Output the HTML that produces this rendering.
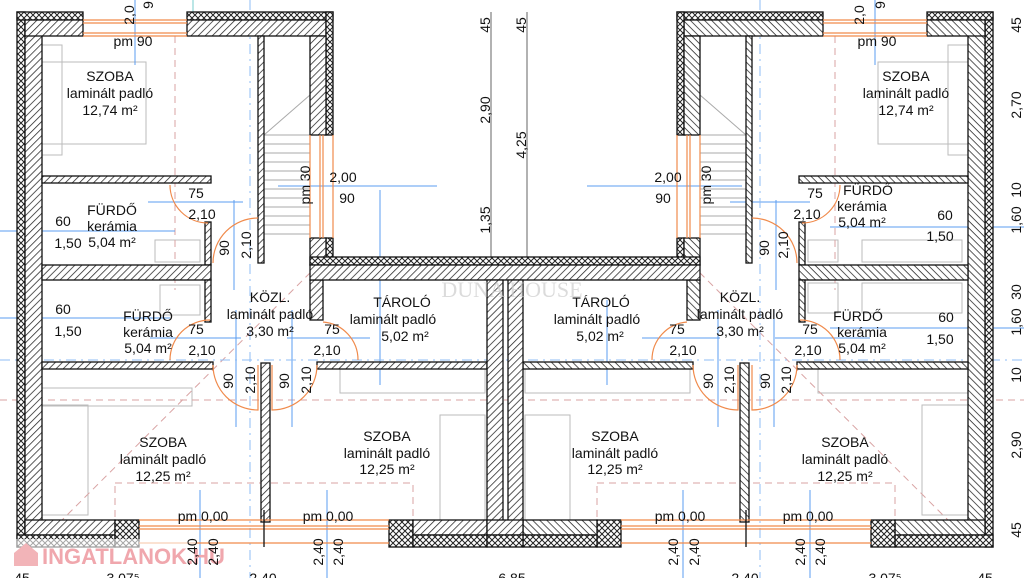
<!DOCTYPE html>
<html><head><meta charset="utf-8"><style>
html,body{margin:0;padding:0;background:#fff;}
svg{display:block;}
text{font-family:"Liberation Sans",sans-serif;font-size:14px;fill:#111;}
</style></head><body>
<svg width="1024" height="578" viewBox="0 0 1024 578" xmlns="http://www.w3.org/2000/svg">
<defs>
<pattern id="h" width="5" height="5" patternUnits="userSpaceOnUse" patternTransform="rotate(45)">
<rect width="5" height="5" fill="#fff"/><line x1="0" y1="0" x2="0" y2="5" stroke="#222" stroke-width="1.5"/></pattern>
<pattern id="x" width="6" height="6" patternUnits="userSpaceOnUse">
<rect width="6" height="6" fill="#fff"/><path d="M0,0 L6,6 M6,0 L0,6" stroke="#222" stroke-width="1"/></pattern>
</defs>
<rect width="1024" height="578" fill="#fff"/>

<g fill="none" stroke="#bbb" stroke-width="1">
<rect x="42" y="62" width="104" height="82"/><rect x="42" y="45" width="20" height="110"/>
<rect x="42" y="405" width="46" height="110"/><rect x="42" y="388" width="150" height="18"/>
<rect x="155" y="240" width="45" height="22"/><rect x="160" y="285" width="40" height="30"/>
<rect x="340" y="368" width="145" height="25"/><rect x="440" y="415" width="45" height="105"/>
<rect x="878" y="62" width="90" height="82"/><rect x="948" y="45" width="20" height="110"/>
<rect x="922" y="405" width="46" height="110"/><rect x="818" y="368" width="150" height="25"/>
<rect x="525" y="368" width="165" height="25"/><rect x="525" y="415" width="45" height="105"/>
<rect x="862" y="240" width="100" height="22"/><rect x="862" y="283" width="100" height="30"/>
<rect x="808" y="240" width="30" height="22"/><rect x="808" y="283" width="30" height="30"/>
</g>
<g stroke="#aaa" stroke-width="1">
<line x1="264" y1="135" x2="310" y2="135"/><line x1="264" y1="144" x2="310" y2="144"/><line x1="264" y1="153" x2="310" y2="153"/><line x1="264" y1="162" x2="310" y2="162"/><line x1="264" y1="171" x2="310" y2="171"/><line x1="264" y1="180" x2="310" y2="180"/><line x1="264" y1="189" x2="310" y2="189"/><line x1="264" y1="198" x2="310" y2="198"/><line x1="264" y1="207" x2="310" y2="207"/><line x1="264" y1="216" x2="310" y2="216"/><line x1="264" y1="225" x2="310" y2="225"/><line x1="264" y1="234" x2="310" y2="234"/>
<line x1="264" y1="135" x2="310" y2="95"/>
<line x1="700" y1="135" x2="746" y2="135"/><line x1="700" y1="144" x2="746" y2="144"/><line x1="700" y1="153" x2="746" y2="153"/><line x1="700" y1="162" x2="746" y2="162"/><line x1="700" y1="171" x2="746" y2="171"/><line x1="700" y1="180" x2="746" y2="180"/><line x1="700" y1="189" x2="746" y2="189"/><line x1="700" y1="198" x2="746" y2="198"/><line x1="700" y1="207" x2="746" y2="207"/><line x1="700" y1="216" x2="746" y2="216"/><line x1="700" y1="225" x2="746" y2="225"/><line x1="700" y1="234" x2="746" y2="234"/>
<line x1="746" y1="135" x2="700" y2="95"/>
</g>

<g fill="none" stroke="#d9a3a3" stroke-width="1" stroke-dasharray="7,5">
<line x1="175" y1="36" x2="175" y2="290"/><line x1="835" y1="36" x2="835" y2="290"/>
<line x1="0" y1="400" x2="1024" y2="400"/>
<rect x="115" y="483" width="298" height="37"/><rect x="597" y="483" width="298" height="37"/>
<line x1="42" y1="540" x2="330" y2="253"/><line x1="968" y1="540" x2="680" y2="253"/>
</g>

<g stroke="#5b9cf0" stroke-width="1" fill="none">
<line x1="0" y1="231" x2="175" y2="231"/><line x1="148" y1="202" x2="243" y2="202"/>
<line x1="278" y1="186" x2="437" y2="186"/><line x1="587" y1="186" x2="742" y2="186"/>
<line x1="0" y1="318" x2="170" y2="318"/><line x1="150" y1="338" x2="241" y2="338"/><line x1="287" y1="338" x2="370" y2="338"/>
<line x1="642" y1="338" x2="720" y2="338"/><line x1="775" y1="338" x2="870" y2="338"/>
<line x1="830" y1="227" x2="1024" y2="227"/><line x1="730" y1="202" x2="810" y2="202"/>
<line x1="830" y1="328" x2="1024" y2="328"/>
<line x1="135" y1="0" x2="135" y2="65"/><line x1="875" y1="0" x2="875" y2="65"/>
<line x1="234" y1="200" x2="234" y2="290"/><line x1="380" y1="190" x2="380" y2="385"/>
<line x1="776" y1="200" x2="776" y2="290"/><line x1="607" y1="300" x2="607" y2="385"/>
<line x1="236" y1="310" x2="236" y2="427"/><line x1="292" y1="310" x2="292" y2="427"/>
<line x1="718" y1="310" x2="718" y2="427"/><line x1="774" y1="310" x2="774" y2="427"/>
<line x1="200" y1="490" x2="200" y2="578"/><line x1="327" y1="490" x2="327" y2="578"/>
<line x1="683" y1="490" x2="683" y2="578"/><line x1="810" y1="490" x2="810" y2="578"/>
</g>
<g stroke="#8fbcf5" stroke-width="1" stroke-dasharray="10,5,2,5">
<line x1="250" y1="0" x2="250" y2="578"/><line x1="760" y1="0" x2="760" y2="578"/>
<line x1="0" y1="360" x2="1024" y2="360"/>
</g>
<line x1="193" y1="0" x2="193" y2="20" stroke="#7cc" stroke-width="1"/>

<g stroke="#666" stroke-width="1">
<line x1="491" y1="12" x2="491" y2="258"/><line x1="527" y1="12" x2="527" y2="258"/>
</g>

<g id="L" stroke="#111" stroke-width="1.3">
<rect x="17" y="12" width="8" height="535" fill="url(#x)"/>
<rect x="25" y="20" width="17" height="515" fill="url(#h)"/>
<rect x="17" y="12" width="66" height="8" fill="url(#x)"/>
<rect x="25" y="20" width="58" height="16" fill="url(#h)"/>
<rect x="187" y="12" width="146" height="8" fill="url(#x)"/>
<rect x="187" y="20" width="139" height="16" fill="url(#h)"/>
<rect x="326" y="12" width="7" height="123" fill="url(#x)"/>
<rect x="310" y="36" width="16" height="99" fill="url(#h)"/>
<rect x="326" y="238" width="7" height="20" fill="url(#x)"/>
<rect x="310" y="238" width="16" height="27" fill="url(#h)"/>
<rect x="25" y="520" width="90" height="15" fill="url(#h)"/>
<rect x="17" y="535" width="98" height="12" fill="url(#x)"/>
<rect x="115" y="520" width="24" height="27" fill="url(#x)"/>
<rect x="389" y="520" width="24" height="27" fill="url(#x)"/>
<rect x="413" y="520" width="74" height="15" fill="url(#h)"/>
<rect x="413" y="535" width="74" height="12" fill="url(#x)"/>
<rect x="258" y="36" width="6" height="227" fill="url(#h)"/>
<rect x="42" y="176" width="169" height="7" fill="url(#h)"/>
<rect x="205" y="222" width="6" height="43" fill="url(#h)"/>
<rect x="42" y="265" width="169" height="15" fill="url(#h)"/>
<rect x="205" y="280" width="6" height="42" fill="url(#h)"/>
<rect x="42" y="362" width="171" height="7" fill="url(#h)"/>
<rect x="261" y="363" width="9" height="159" fill="url(#h)"/>
<rect x="317" y="362" width="170" height="7" fill="url(#h)"/>
<rect x="310" y="280" width="13" height="40" fill="url(#h)"/>
<g stroke="#f08a4b" stroke-width="1.2" fill="none">
<line x1="83" y1="20" x2="187" y2="20"/><line x1="83" y1="23" x2="187" y2="23"/><line x1="83" y1="33" x2="187" y2="33"/><line x1="83" y1="36" x2="187" y2="36"/>
<line x1="310" y1="135" x2="310" y2="238"/><line x1="320" y1="135" x2="320" y2="238"/><line x1="323" y1="135" x2="323" y2="238"/><line x1="333" y1="135" x2="333" y2="238"/>
<line x1="139" y1="520" x2="389" y2="520"/><line x1="139" y1="526" x2="389" y2="526"/><line x1="139" y1="529" x2="389" y2="529"/><line x1="139" y1="543" x2="389" y2="543"/>
<path d="M170,185 A38,38 0 0 0 208,223"/>
<path d="M213,263 A45,45 0 0 1 258,218"/>
<path d="M170,360 A40,40 0 0 1 210,320"/>
<path d="M213,365 A45,45 0 0 0 258,410 L258,365"/>
<path d="M317,365 A45,45 0 0 1 272,410 L272,365"/>
<path d="M323,322 A38,38 0 0 1 358,360"/>
</g>
<line x1="264" y1="510" x2="264" y2="547" stroke="#111"/>
</g>
<use href="#L" transform="translate(1010,0) scale(-1,1)"/>
<g stroke="#111" stroke-width="1.3">
<rect x="310" y="257" width="390" height="8" fill="url(#x)"/>
<rect x="310" y="265" width="390" height="15" fill="url(#h)"/>
<rect x="487" y="280" width="16" height="242" fill="url(#h)"/>
<rect x="508" y="280" width="15" height="242" fill="url(#h)"/>
<rect x="487" y="520" width="36" height="15" fill="url(#h)"/>
<rect x="487" y="535" width="36" height="12" fill="url(#x)"/>
</g>

<text x="512" y="297" text-anchor="middle" style="font-family:'Liberation Serif',serif;font-size:22px;fill:#ccc;opacity:.7">DUNA HOUSE</text>
<rect x="10" y="539" width="186" height="30" fill="#fff" opacity=".6"/>
<path d="M14,553 L26,543 L38,553 L38,566 L14,566 Z" fill="#f2b4b8"/>
<text x="42" y="564" style="font-size:22px;font-weight:bold;fill:#f0a7ad">INGATLANOK.HU</text>

<g text-anchor="middle">
<text x="133" y="46">pm 90</text><text x="877" y="46">pm 90</text>
<text x="110" y="81">SZOBA</text><text x="110" y="98">laminált padló</text><text x="110" y="115">12,74 m²</text>
<text x="906" y="81">SZOBA</text><text x="906" y="98">laminált padló</text><text x="906" y="115">12,74 m²</text>
<text x="112" y="215">FÜRDŐ</text><text x="112" y="231">kerámia</text><text x="112" y="247">5,04 m²</text>
<text x="63" y="226">60</text><text x="68" y="248">1,50</text>
<text x="196" y="198">75</text><text x="202" y="219">2,10</text>
<text x="343" y="182">2,00</text><text x="347" y="203">90</text>
<text x="668" y="182">2,00</text><text x="663" y="203">90</text>
<text x="63" y="314">60</text><text x="68" y="336">1,50</text>
<text x="148" y="321">FÜRDŐ</text><text x="148" y="337">kerámia</text><text x="148" y="353">5,04 m²</text>
<text x="196" y="334">75</text><text x="202" y="355">2,10</text>
<text x="270" y="302">KÖZL.</text><text x="270" y="319">laminált padló</text><text x="270" y="336">3,30 m²</text>
<text x="332" y="334">75</text><text x="327" y="355">2,10</text>
<text x="402" y="307">TÁROLÓ</text><text x="393" y="324">laminált padló</text><text x="405" y="341">5,02 m²</text>
<text x="601" y="307">TÁROLÓ</text><text x="597" y="324">laminált padló</text><text x="600" y="341">5,02 m²</text>
<text x="740" y="302">KÖZL.</text><text x="740" y="319">laminált padló</text><text x="740" y="336">3,30 m²</text>
<text x="677" y="334">75</text><text x="683" y="355">2,10</text>
<text x="810" y="334">75</text><text x="808" y="355">2,10</text>
<text x="858" y="321">FÜRDŐ</text><text x="862" y="337">kerámia</text><text x="862" y="353">5,04 m²</text>
<text x="946" y="322">60</text><text x="940" y="344">1,50</text>
<text x="868" y="195">FÜRDŐ</text><text x="862" y="211">kerámia</text><text x="862" y="227">5,04 m²</text>
<text x="945" y="220">60</text><text x="940" y="241">1,50</text>
<text x="815" y="198">75</text><text x="807" y="219">2,10</text>
<text x="163" y="447">SZOBA</text><text x="163" y="464">laminált padló</text><text x="163" y="481">12,25 m²</text>
<text x="387" y="441">SZOBA</text><text x="387" y="458">laminált padló</text><text x="387" y="474">12,25 m²</text>
<text x="615" y="441">SZOBA</text><text x="615" y="458">laminált padló</text><text x="615" y="474">12,25 m²</text>
<text x="845" y="447">SZOBA</text><text x="845" y="464">laminált padló</text><text x="845" y="481">12,25 m²</text>
<text x="203" y="521">pm 0,00</text><text x="328" y="521">pm 0,00</text>
<text x="680" y="521">pm 0,00</text><text x="808" y="521">pm 0,00</text>
<text x="22" y="583">45</text><text x="123" y="583">3,07⁵</text><text x="263" y="583">2,40</text>
<text x="512" y="583">6,85</text><text x="745" y="583">2,40</text><text x="885" y="583">3,07⁵</text><text x="985" y="583">45</text>
</g>
<g text-anchor="middle">
<text transform="translate(134,15) rotate(-90)">2,0</text>
<text transform="translate(153,5) rotate(-90)">9</text>
<text transform="translate(864,15) rotate(-90)">2,0</text>
<text transform="translate(885,5) rotate(-90)">9</text>
<text transform="translate(229,248) rotate(-90)">90</text><text transform="translate(251,245) rotate(-90)">2,10</text>
<text transform="translate(769,248) rotate(-90)">90</text><text transform="translate(788,245) rotate(-90)">2,10</text>
<text transform="translate(310,185) rotate(-90)">pm 30</text><text transform="translate(711,185) rotate(-90)">pm 30</text>
<text transform="translate(233,381) rotate(-90)">90</text><text transform="translate(255,380) rotate(-90)">2,10</text>
<text transform="translate(289,381) rotate(-90)">90</text><text transform="translate(311,380) rotate(-90)">2,10</text>
<text transform="translate(713,381) rotate(-90)">90</text><text transform="translate(734,380) rotate(-90)">2,10</text>
<text transform="translate(770,381) rotate(-90)">90</text><text transform="translate(791,380) rotate(-90)">2,10</text>
<text transform="translate(197,552) rotate(-90)">2,40</text><text transform="translate(218,552) rotate(-90)">2,40</text>
<text transform="translate(323,552) rotate(-90)">2,40</text><text transform="translate(343,552) rotate(-90)">2,40</text>
<text transform="translate(678,552) rotate(-90)">2,40</text><text transform="translate(699,552) rotate(-90)">2,40</text>
<text transform="translate(805,552) rotate(-90)">2,40</text><text transform="translate(825,552) rotate(-90)">2,40</text>
<text transform="translate(490,25) rotate(-90)">45</text><text transform="translate(490,110) rotate(-90)">2,90</text>
<text transform="translate(490,220) rotate(-90)">1,35</text><text transform="translate(526,25) rotate(-90)">45</text>
<text transform="translate(526,145) rotate(-90)">4,25</text>
<text transform="translate(1021,25) rotate(-90)">45</text><text transform="translate(1021,105) rotate(-90)">2,70</text>
<text transform="translate(1021,190) rotate(-90)">10</text><text transform="translate(1021,220) rotate(-90)">1,60</text>
<text transform="translate(1021,292) rotate(-90)">30</text><text transform="translate(1021,322) rotate(-90)">1,60</text>
<text transform="translate(1021,375) rotate(-90)">10</text><text transform="translate(1021,445) rotate(-90)">2,90</text>
<text transform="translate(1021,530) rotate(-90)">45</text>
</g>
</svg>
</body></html>
